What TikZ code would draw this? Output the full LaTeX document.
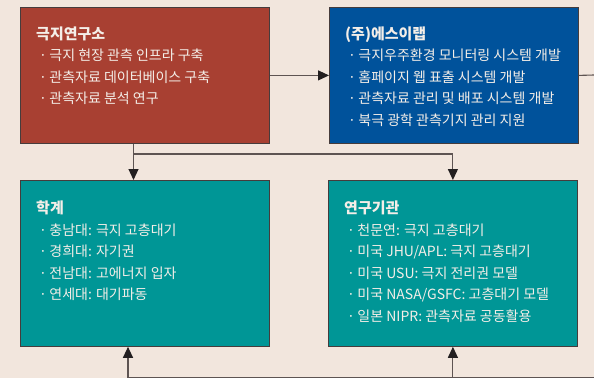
\documentclass[tikz,border=0pt]{standalone}
\usepackage{fontspec}
\setmainfont{Noto Sans CJK KR}
\usetikzlibrary{positioning,arrows.meta}

\definecolor{bgpaper}{HTML}{F2E6DD}
\definecolor{redbox}{HTML}{A84032}
\definecolor{bluebox}{HTML}{00529B}
\definecolor{tealbox}{HTML}{009696}
\definecolor{boxline}{HTML}{463C3C}
\definecolor{linegray}{HTML}{5E5452}
\definecolor{arrowtip}{HTML}{231F20}
\definecolor{boxtext}{HTML}{F4EEE8}

\newcommand{\boxtitle}[1]{{\fontsize{15}{22.5}\selectfont\bfseries #1}}
\newcommand{\itm}{\hspace{3pt}·\,}

\begin{document}
\begin{tikzpicture}[x=1pt, y=-1pt,
	box/.style={draw=boxline, line width=0.8pt, minimum width=249pt, inner sep=0pt, anchor=north west},
	txt/.style={text=boxtext, align=left, inner sep=0pt, anchor=north west, font=\fontsize{14}{21.5}\selectfont},
	link/.style={draw=linegray, line width=1.1pt},
	arr/.style={link, -{Triangle[length=11pt,width=10pt,color=arrowtip]}}]
	\useasboundingbox (0,0) rectangle (594,378);
	\fill[bgpaper] (0,0) rectangle (594,378);

	\node[box, fill=redbox, minimum height=136pt] (kopri) at (20,7) {};
	\node[box, fill=bluebox, minimum height=136pt] (eslab) at (329,7) {};
	\node[box, fill=tealbox, minimum height=166pt] (acad) at (20,180) {};
	\node[box, fill=tealbox, minimum height=166pt] (inst) at (328,180) {};

	\node[txt, below right=19.5pt and 16pt of kopri.north west] (kopritxt) {\boxtitle{극지연구소}\\
		\itm 극지 현장 관측 인프라 구축\\
		\itm 관측자료 데이터베이스 구축\\
		\itm 관측자료 분석 연구};
	\node[txt, below right=19.5pt and 16pt of eslab.north west] (eslabtxt) {\boxtitle{(주)에스이랩}\\
		\itm 극지우주환경 모니터링 시스템 개발\\
		\itm 홈페이지 웹 표출 시스템 개발\\
		\itm 관측자료 관리 및 배포 시스템 개발\\
		\itm 북극 광학 관측기지 관리 지원};
	\node[txt, below right=21pt and 16pt of acad.north west] (acadtxt) {\boxtitle{학계}\\
		\itm 충남대: 극지 고층대기\\
		\itm 경희대: 자기권\\
		\itm 전남대: 고에너지 입자\\
		\itm 연세대: 대기파동};
	\node[txt, below right=21pt and 16pt of inst.north west] (insttxt) {\boxtitle{연구기관}\\
		\itm 천문연: 극지 고층대기\\
		\itm 미국 JHU/APL: 극지 고층대기\\
		\itm 미국 USU: 극지 전리권 모델\\
		\itm 미국 NASA/GSFC: 고층대기 모델\\
		\itm 일본 NIPR: 관측자료 공동활용};

	\coordinate (split) at (133.5,154);
	\coordinate (rightend) at (594,75);
	\coordinate (botleft) at (128,377.5);
	\coordinate (botright) at (594,377.5);

	\draw[arr] (kopri.east) -- (eslab.west);
	\draw[link] (eslab.east) -- (rightend);
	\draw[link] (split |- kopri.south) -- (split);
	\draw[arr] (split) -- (split |- acad.north);
	\draw[arr] (split) -| (inst.north);
	\draw[link] (botright) -- (botleft);
	\draw[arr] (botleft) -- (botleft |- acad.south);
	\draw[arr] (botleft -| inst.south) -- (inst.south);
\end{tikzpicture}
\end{document}
